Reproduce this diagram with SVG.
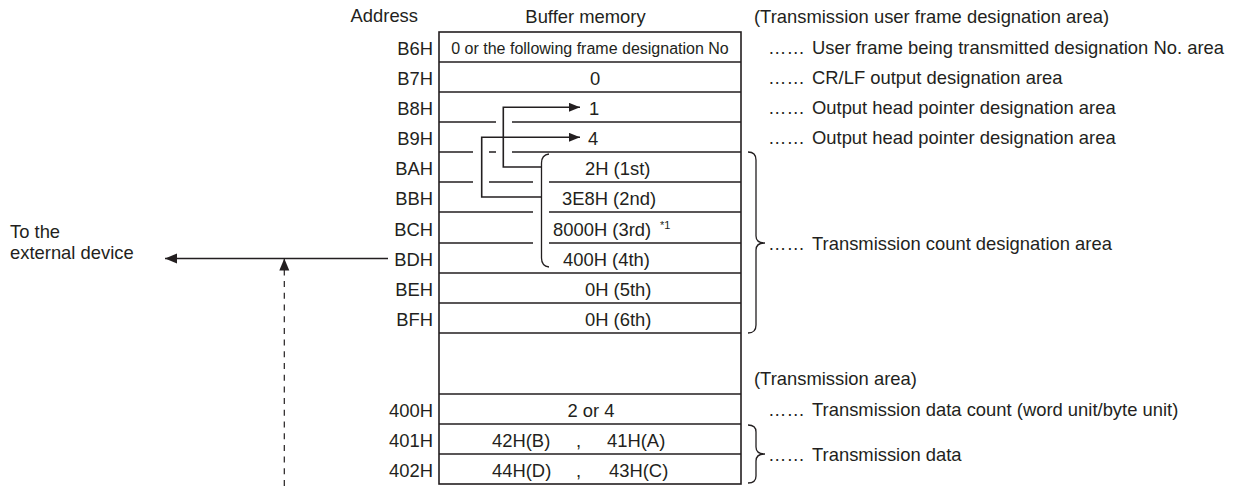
<svg xmlns="http://www.w3.org/2000/svg" width="1237" height="486" viewBox="0 0 1237 486">
<style>
text{font-family:"Liberation Sans",Arial,sans-serif;font-size:18.4px;fill:#231f20}
.addr{text-anchor:end}
.small{font-size:16px}
.sup{font-size:11px}
.ln{stroke:#231f20;stroke-width:1.6;fill:none}
.thin{stroke:#231f20;stroke-width:1.3;fill:none}
.dash{stroke:#231f20;stroke-width:1.2;fill:none;stroke-dasharray:6 5.7}
</style>
<defs>
<marker id="ah" markerUnits="userSpaceOnUse" markerWidth="13" markerHeight="11" refX="11" refY="4.5" orient="auto">
<path d="M0,0 L11,4.5 L0,9 z" fill="#231f20"/>
</marker>
<marker id="ahb" markerUnits="userSpaceOnUse" markerWidth="14" markerHeight="12" refX="12" refY="5" orient="auto">
<path d="M0,0 L12,5 L0,10 z" fill="#231f20"/>
</marker>
</defs>

<g id="headers">
<text x="418" y="22" class="addr">Address</text>
<text x="585.5" y="23" text-anchor="middle">Buffer memory</text>
<text x="754" y="23">(Transmission user frame designation area)</text>
</g>

<g id="addresses">
<text x="433" y="55" class="addr">B6H</text>
<text x="433" y="85" class="addr">B7H</text>
<text x="433" y="115" class="addr">B8H</text>
<text x="433" y="145" class="addr">B9H</text>
<text x="433" y="175" class="addr">BAH</text>
<text x="433" y="205" class="addr">BBH</text>
<text x="433" y="235.5" class="addr">BCH</text>
<text x="433" y="266" class="addr">BDH</text>
<text x="433" y="296" class="addr">BEH</text>
<text x="433" y="326" class="addr">BFH</text>
<text x="433" y="417" class="addr">400H</text>
<text x="433" y="447" class="addr">401H</text>
<text x="433" y="477" class="addr">402H</text>
</g>

<g id="buffer-memory">
<rect x="439" y="32" width="302" height="452" class="ln"/>
<path class="ln" d="M439,62 H741 M439,92 H741 M439,122 H496 M512,122 H741 M439,152 H473 M489,152 H496 M512,152 H741 M439,182 H473 M489,182 H533 M549,182 H741 M439,212 H533 M549,212 H741 M439,243 H533 M549,243 H741 M439,273 H741 M439,303 H741 M439,333 H741 M439,394 H741 M439,424 H741 M439,454 H741"/>
<text x="590" y="54" text-anchor="middle" class="small">0 or the following frame designation No</text>
<text x="590" y="85">0</text>
<text x="589" y="115">1</text>
<text x="588" y="145">4</text>
<text x="585" y="175">2H (1st)</text>
<text x="562" y="205">3E8H (2nd)</text>
<text x="553" y="235.5">8000H (3rd)</text>
<text x="660" y="229" class="sup">*1</text>
<text x="563" y="266">400H (4th)</text>
<text x="585" y="296">0H (5th)</text>
<text x="585" y="326">0H (6th)</text>
<text x="591" y="417" text-anchor="middle">2 or 4</text>
<text x="492" y="447">42H(B)</text>
<text x="576" y="447">,</text>
<text x="607" y="447">41H(A)</text>
<text x="492" y="477">44H(D)</text>
<text x="576" y="477">,</text>
<text x="609" y="477">43H(C)</text>
<path class="thin" d="M549,154 Q541.5,155 541.5,163 V258 Q541.5,266 549,267"/>
</g>

<g id="annotations">
<path class="thin" d="M748,152 Q756,152 756,160 V236 Q756,243 765,243 Q756,243 756,250 V325 Q756,333 748,333"/>
<path class="thin" d="M748,425 Q756,425 756,432 V447 Q756,454 765,454 Q756,454 756,461 V476 Q756,483 748,483"/>
<text x="768" y="54">……<tspan x="812">User frame being transmitted designation No. area</tspan></text>
<text x="768" y="84">……<tspan x="812">CR/LF output designation area</tspan></text>
<text x="768" y="114">……<tspan x="812">Output head pointer designation area</tspan></text>
<text x="768" y="144">……<tspan x="812">Output head pointer designation area</tspan></text>
<text x="768" y="250">……<tspan x="812">Transmission count designation area</tspan></text>
<text x="754" y="385">(Transmission area)</text>
<text x="768" y="416">……<tspan x="812">Transmission data count (word unit/byte unit)</tspan></text>
<text x="768" y="461">……<tspan x="812">Transmission data</tspan></text>
</g>

<g id="external-device">
<text x="10" y="238">To the</text>
<text x="10" y="259">external device</text>
</g>

<g id="connectors">
<path class="ln" d="M541.5,167 H503.3 V107.3 H580" marker-end="url(#ah)"/>
<path class="ln" d="M541.5,197 H481.7 V137.3 H580" marker-end="url(#ah)"/>
<path class="ln" d="M388,258.5 H165" marker-end="url(#ahb)"/>
<path class="dash" d="M284.3,486 V258.5" marker-end="url(#ahb)"/>
</g>
</svg>
